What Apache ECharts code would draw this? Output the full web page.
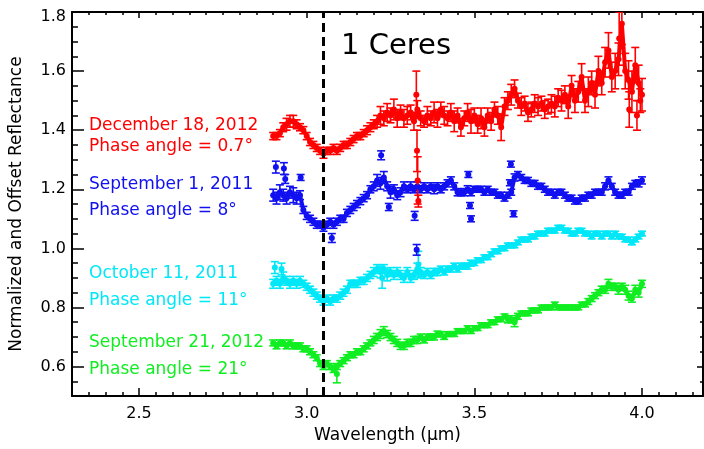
<!DOCTYPE html>
<html>
<head>
<meta charset="utf-8">
<script src="https://cdn.jsdelivr.net/npm/echarts@6/dist/echarts.min.js"></script>
<style>
html, body { margin: 0; padding: 0; background: #fff; }
#chart { width: 704px; height: 449px; }
</style>
</head>
<body>
<div id="chart"></div>
<script>
// wavelength grid (micron)
const wavelengths = [
  2.90, 2.91, 2.92, 2.93, 2.94, 2.95, 2.96, 2.97, 2.98, 2.99,
  3.00, 3.01, 3.02, 3.03, 3.04, 3.05, 3.06, 3.07, 3.08, 3.09,
  3.10, 3.11, 3.12, 3.13, 3.14, 3.15, 3.16, 3.17, 3.18, 3.19,
  3.20, 3.21, 3.22, 3.23, 3.24, 3.25, 3.26, 3.27, 3.28, 3.29,
  3.30, 3.31, 3.32, 3.33, 3.34, 3.35, 3.36, 3.37, 3.38, 3.39,
  3.40, 3.41, 3.42, 3.43, 3.44, 3.45, 3.46, 3.47, 3.48, 3.49,
  3.50, 3.51, 3.52, 3.53, 3.54, 3.55, 3.56, 3.57, 3.58, 3.59,
  3.60, 3.61, 3.62, 3.63, 3.64, 3.65, 3.66, 3.67, 3.68, 3.69,
  3.70, 3.71, 3.72, 3.73, 3.74, 3.75, 3.76, 3.77, 3.78, 3.79,
  3.80, 3.81, 3.82, 3.83, 3.84, 3.85, 3.86, 3.87, 3.88, 3.89,
  3.90, 3.91, 3.92, 3.93, 3.94, 3.95, 3.96, 3.97, 3.98, 3.99,
  4.00
];

// December 18, 2012
const redFlux = [
  1.38, 1.38, 1.39, 1.41, 1.42, 1.43, 1.43, 1.42, 1.41, 1.40,
  1.38, 1.36, 1.35, 1.34, 1.33, 1.32, 1.33, 1.33, 1.34, 1.33,
  1.34, 1.35, 1.35, 1.36, 1.37, 1.38, 1.38, 1.39, 1.40, 1.41,
  1.42, 1.43, 1.45, 1.44, 1.46, 1.45, 1.47, 1.44, 1.46, 1.44,
  1.45, 1.46, 1.43, 1.47, 1.44, 1.43, 1.45, 1.44, 1.46, 1.44,
  1.47, 1.45, 1.44, 1.46, 1.43, 1.45, 1.41, 1.44, 1.46, 1.43,
  1.45, 1.42, 1.44, 1.41, 1.45, 1.43, 1.47, 1.45, 1.41, 1.48,
  1.50, 1.52, 1.54, 1.50, 1.48, 1.49, 1.46, 1.47, 1.49, 1.48,
  1.49, 1.47, 1.48, 1.49, 1.48, 1.51, 1.50, 1.52, 1.48, 1.55,
  1.50, 1.53, 1.58, 1.50, 1.53, 1.56, 1.52, 1.60, 1.56, 1.63,
  1.67, 1.58, 1.60, 1.64, 1.76, 1.60, 1.57, 1.53, 1.62, 1.56,
  1.52
];
const redErr = [
  0.012, 0.012, 0.012, 0.015, 0.02, 0.02, 0.02, 0.015, 0.012, 0.012,
  0.012, 0.012, 0.012, 0.012, 0.012, 0.015, 0.012, 0.012, 0.012, 0.012,
  0.012, 0.012, 0.012, 0.012, 0.012, 0.012, 0.012, 0.012, 0.015, 0.015,
  0.015, 0.02, 0.03, 0.025, 0.03, 0.025, 0.035, 0.03, 0.025, 0.03,
  0.03, 0.025, 0.03, 0.03, 0.025, 0.02, 0.03, 0.025, 0.035, 0.03,
  0.025, 0.03, 0.025, 0.03, 0.035, 0.025, 0.03, 0.025, 0.03, 0.04,
  0.025, 0.03, 0.035, 0.03, 0.025, 0.03, 0.025, 0.03, 0.045, 0.03,
  0.03, 0.035, 0.03, 0.025, 0.03, 0.025, 0.03, 0.025, 0.03, 0.03,
  0.025, 0.03, 0.025, 0.03, 0.035, 0.03, 0.035, 0.03, 0.04, 0.035,
  0.04, 0.035, 0.045, 0.04, 0.05, 0.04, 0.045, 0.05, 0.04, 0.05,
  0.06, 0.05, 0.06, 0.055, 0.07, 0.06, 0.065, 0.07, 0.06, 0.06,
  0.055
];
const redExtra = [
  [3.327, 1.52, 0.08], [3.329, 1.33, 0.07], [3.331, 1.23, 0.08], [3.333, 1.16, 0.02],
  [3.932, 1.71, 0.09], [3.962, 1.47, 0.06], [3.985, 1.45, 0.05], [3.995, 1.50, 0.04]
];

// September 1, 2011
const blueFlux = [
  1.18, 1.17, 1.19, 1.18, 1.17, 1.19, 1.18, 1.17, 1.18, 1.13,
  1.11, 1.10, 1.09, 1.08, 1.08, 1.07, 1.08, 1.09, 1.08, 1.09,
  1.10, 1.10, 1.12, 1.13, 1.14, 1.15, 1.16, 1.17, 1.18, 1.20,
  1.21, 1.23, 1.22, 1.24, 1.21, 1.19, 1.20, 1.18, 1.19, 1.21,
  1.20, 1.21, 1.20, 1.21, 1.20, 1.21, 1.20, 1.21, 1.20, 1.21,
  1.20, 1.21, 1.22, 1.23, 1.21, 1.19, 1.19, 1.19, 1.20, 1.19,
  1.20, 1.20, 1.20, 1.19, 1.20, 1.19, 1.19, 1.18, 1.18, 1.17,
  1.18, 1.19, 1.24, 1.25, 1.24, 1.23, 1.23, 1.22, 1.22, 1.21,
  1.21, 1.20, 1.19, 1.19, 1.18, 1.19, 1.19, 1.18, 1.17, 1.17,
  1.16, 1.16, 1.17, 1.17, 1.18, 1.18, 1.19, 1.19, 1.19, 1.21,
  1.23, 1.21, 1.19, 1.18, 1.18, 1.19, 1.19, 1.21, 1.22, 1.22,
  1.23
];
const blueErr = [
  0.02, 0.02, 0.025, 0.02, 0.02, 0.02, 0.025, 0.02, 0.015, 0.012,
  0.012, 0.012, 0.012, 0.012, 0.012, 0.012, 0.012, 0.012, 0.012, 0.012,
  0.012, 0.012, 0.012, 0.012, 0.012, 0.012, 0.012, 0.012, 0.012, 0.012,
  0.015, 0.02, 0.02, 0.02, 0.015, 0.02, 0.015, 0.015, 0.015, 0.015,
  0.012, 0.015, 0.012, 0.015, 0.012, 0.012, 0.012, 0.012, 0.015, 0.012,
  0.012, 0.012, 0.012, 0.012, 0.012, 0.012, 0.012, 0.012, 0.012, 0.012,
  0.01, 0.01, 0.01, 0.01, 0.01, 0.01, 0.01, 0.01, 0.01, 0.01,
  0.01, 0.01, 0.012, 0.01, 0.01, 0.01, 0.01, 0.01, 0.01, 0.01,
  0.01, 0.01, 0.01, 0.01, 0.01, 0.01, 0.01, 0.01, 0.01, 0.01,
  0.01, 0.01, 0.01, 0.01, 0.01, 0.01, 0.01, 0.01, 0.01, 0.012,
  0.012, 0.01, 0.01, 0.01, 0.01, 0.01, 0.01, 0.01, 0.01, 0.012,
  0.012
];
const blueExtra = [
  [2.908, 1.275, 0.02], [2.932, 1.27, 0.02], [2.936, 1.235, 0.015], [2.982, 1.24, 0.01],
  [3.075, 1.035, 0.015], [3.222, 1.315, 0.015], [3.245, 1.14, 0.012], [3.322, 1.11, 0.015],
  [3.328, 0.995, 0.018], [3.482, 1.25, 0.01], [3.487, 1.145, 0.01], [3.490, 1.10, 0.01],
  [3.606, 1.222, 0.01], [3.609, 1.285, 0.01], [3.617, 1.117, 0.01]
];

// October 11, 2011
const cyanFlux = [
  0.88, 0.89, 0.88, 0.90, 0.89, 0.88, 0.89, 0.88, 0.89, 0.88,
  0.87, 0.86, 0.85, 0.84, 0.83, 0.82, 0.83, 0.82, 0.83, 0.83,
  0.84, 0.85, 0.86, 0.88, 0.88, 0.88, 0.89, 0.89, 0.90, 0.91,
  0.92, 0.93, 0.92, 0.93, 0.91, 0.92, 0.91, 0.92, 0.91, 0.90,
  0.92, 0.90, 0.91, 0.93, 0.92, 0.91, 0.92, 0.91, 0.92, 0.92,
  0.93, 0.92, 0.93, 0.93, 0.94, 0.93, 0.94, 0.94, 0.94, 0.95,
  0.95, 0.96, 0.96, 0.97, 0.97, 0.98, 0.99, 0.99, 1.00, 1.00,
  1.01, 1.01, 1.01, 1.02, 1.03, 1.03, 1.03, 1.04, 1.04, 1.05,
  1.05, 1.05, 1.06, 1.06, 1.06, 1.07, 1.07, 1.06, 1.06, 1.05,
  1.05, 1.06, 1.06, 1.05, 1.05, 1.04, 1.05, 1.05, 1.04, 1.05,
  1.05, 1.04, 1.05, 1.04, 1.04, 1.03, 1.03, 1.02, 1.03, 1.04,
  1.05
];
const cyanErr = [
  0.015, 0.015, 0.015, 0.02, 0.015, 0.015, 0.015, 0.015, 0.015, 0.012,
  0.012, 0.012, 0.012, 0.012, 0.012, 0.012, 0.012, 0.012, 0.012, 0.012,
  0.012, 0.012, 0.012, 0.012, 0.012, 0.012, 0.012, 0.012, 0.012, 0.012,
  0.015, 0.015, 0.02, 0.015, 0.02, 0.015, 0.015, 0.015, 0.015, 0.015,
  0.015, 0.015, 0.015, 0.02, 0.015, 0.012, 0.012, 0.012, 0.012, 0.012,
  0.01, 0.01, 0.01, 0.01, 0.01, 0.01, 0.01, 0.01, 0.01, 0.01,
  0.008, 0.008, 0.008, 0.008, 0.008, 0.008, 0.008, 0.008, 0.008, 0.008,
  0.008, 0.008, 0.008, 0.008, 0.008, 0.008, 0.008, 0.008, 0.008, 0.008,
  0.008, 0.008, 0.008, 0.008, 0.008, 0.008, 0.008, 0.008, 0.008, 0.008,
  0.008, 0.008, 0.008, 0.008, 0.008, 0.008, 0.008, 0.008, 0.008, 0.008,
  0.008, 0.008, 0.008, 0.008, 0.008, 0.008, 0.008, 0.008, 0.008, 0.008,
  0.008
];
const cyanExtra = [
  [2.905, 0.935, 0.02], [2.925, 0.93, 0.02], [3.225, 0.90, 0.035], [3.333, 0.945, 0.045]
];

// September 21, 2012
const greenFlux = [
  0.68, 0.67, 0.68, 0.68, 0.67, 0.68, 0.67, 0.67, 0.67, 0.66,
  0.66, 0.65, 0.64, 0.63, 0.61, 0.60, 0.61, 0.60, 0.59, 0.60,
  0.61, 0.62, 0.63, 0.64, 0.64, 0.65, 0.65, 0.66, 0.67, 0.68,
  0.69, 0.70, 0.71, 0.72, 0.71, 0.70, 0.69, 0.68, 0.67, 0.67,
  0.68, 0.68, 0.69, 0.69, 0.70, 0.69, 0.70, 0.70, 0.70, 0.71,
  0.71, 0.70, 0.71, 0.71, 0.71, 0.72, 0.72, 0.72, 0.73, 0.72,
  0.73, 0.73, 0.74, 0.74, 0.74, 0.75, 0.75, 0.76, 0.76, 0.77,
  0.76, 0.76, 0.75, 0.77, 0.78, 0.78, 0.78, 0.79, 0.79, 0.79,
  0.80, 0.80, 0.80, 0.80, 0.81, 0.80, 0.80, 0.80, 0.80, 0.80,
  0.80, 0.80, 0.81, 0.81, 0.82, 0.83, 0.84, 0.85, 0.86, 0.86,
  0.88, 0.87, 0.87, 0.86, 0.87, 0.86, 0.84, 0.83, 0.86, 0.85,
  0.88
];
const greenErr = [
  0.01, 0.01, 0.01, 0.01, 0.01, 0.01, 0.01, 0.01, 0.01, 0.01,
  0.01, 0.01, 0.01, 0.01, 0.01, 0.01, 0.01, 0.01, 0.01, 0.01,
  0.01, 0.01, 0.01, 0.01, 0.01, 0.01, 0.01, 0.01, 0.01, 0.01,
  0.012, 0.012, 0.015, 0.015, 0.012, 0.012, 0.012, 0.012, 0.012, 0.012,
  0.012, 0.012, 0.012, 0.012, 0.01, 0.01, 0.01, 0.01, 0.01, 0.01,
  0.008, 0.008, 0.008, 0.008, 0.008, 0.008, 0.008, 0.008, 0.008, 0.008,
  0.008, 0.008, 0.008, 0.008, 0.008, 0.008, 0.008, 0.008, 0.008, 0.008,
  0.012, 0.012, 0.015, 0.01, 0.008, 0.008, 0.008, 0.008, 0.008, 0.008,
  0.008, 0.008, 0.008, 0.008, 0.008, 0.008, 0.008, 0.008, 0.008, 0.008,
  0.008, 0.008, 0.008, 0.008, 0.01, 0.01, 0.01, 0.01, 0.012, 0.012,
  0.015, 0.012, 0.012, 0.015, 0.012, 0.015, 0.015, 0.012, 0.015, 0.015,
  0.012
];
const greenExtra = [
  [3.09, 0.575, 0.03]
];

// 3-micron band centre marker
const bandCentre = 3.05;

const labels = [
  ['December 18, 2012', 'Phase angle = 0.7°'],
  ['September 1, 2011', 'Phase angle = 8°'],
  ['October 11, 2011', 'Phase angle = 11°'],
  ['September 21, 2012', 'Phase angle = 21°']
];
const title = '1 Ceres';

const colors = ['#ff0000', '#1010f0', '#00e8f8', '#10ee22'];
const labelY = [[126, 147], [185, 211], [274, 301], [343, 370]];

const FONT = 'DejaVu Sans';

function pack(flux, err, extra) {
  const out = wavelengths.map(function (w, i) { return [w, flux[i], err[i]]; });
  extra.forEach(function (p) { out.push(p); });
  return out;
}

function renderErr(params, api) {
  const x = api.value(0), y = api.value(1), e = api.value(2);
  const p = api.coord([x, y]);
  const hi = api.coord([x, y + e]);
  const lo = api.coord([x, y - e]);
  const color = api.visual('color');
  const cap = 4;
  const ls = { stroke: color, lineWidth: 1.6 };
  return {
    type: 'group',
    children: [
      { type: 'line', shape: { x1: p[0], y1: hi[1], x2: p[0], y2: lo[1] }, style: ls },
      { type: 'line', shape: { x1: p[0] - cap, y1: hi[1], x2: p[0] + cap, y2: hi[1] }, style: ls },
      { type: 'line', shape: { x1: p[0] - cap, y1: lo[1], x2: p[0] + cap, y2: lo[1] }, style: ls },
      { type: 'circle', shape: { cx: p[0], cy: p[1], r: 3 }, style: { fill: color } }
    ]
  };
}

function spectrum(data, color, extra) {
  return Object.assign({
    type: 'custom',
    renderItem: renderErr,
    data: data,
    dimensions: ['x', 'y', 'err'],
    encode: { x: 0, y: 1 },
    itemStyle: { color: color },
    clip: true,
    silent: true
  }, extra || {});
}

// trace joining the points, under the error bars
function trace(data, color) {
  return {
    type: 'line',
    data: data,
    encode: { x: 0, y: 1 },
    showSymbol: false,
    lineStyle: { color: color, width: 4 },
    silent: true
  };
}

const chart = echarts.init(document.getElementById('chart'));

const tickStyle = { color: '#000', width: 1.5 };
const lineStyle = { color: '#000', width: 2 };

const graphic = [{
  type: 'text', x: 341, y: 46,
  style: { text: title, fill: '#000', font: '29px "' + FONT + '"', verticalAlign: 'middle' }
}];
labels.forEach(function (pair, i) {
  pair.forEach(function (txt, j) {
    graphic.push({
      type: 'text', x: 89, y: labelY[i][j],
      style: { text: txt, fill: colors[i], font: '17px "' + FONT + '"', verticalAlign: 'middle' }
    });
  });
});

const green = pack(greenFlux, greenErr, []);
const cyan = pack(cyanFlux, cyanErr, []);
const blue = pack(blueFlux, blueErr, []);
const red = pack(redFlux, redErr, []);

chart.setOption({
  animation: false,
  grid: { left: 72, right: 1, top: 12, bottom: 50 },
  xAxis: [{
    type: 'value', min: 2.3, max: 4.182, splitNumber: 4, position: 'bottom',
    axisLine: { onZero: false, lineStyle: lineStyle },
    axisTick: { inside: true, length: 8, lineStyle: tickStyle },
    minorTick: { show: true, splitNumber: 10, length: 4, lineStyle: tickStyle },
    splitLine: { show: false },
    axisLabel: {
      color: '#000', fontSize: 16, fontFamily: FONT, margin: 10,
      showMinLabel: false, showMaxLabel: false,
      formatter: function (v) { return v.toFixed(1); }
    },
    name: 'Wavelength (μm)', nameLocation: 'middle', nameGap: 29,
    nameTextStyle: { color: '#000', fontSize: 17, fontFamily: FONT }
  }, {
    type: 'value', min: 2.3, max: 4.182, splitNumber: 4, position: 'top',
    axisLine: { onZero: false, lineStyle: lineStyle },
    axisTick: { inside: true, length: 6, lineStyle: tickStyle },
    minorTick: { show: true, splitNumber: 10, length: 3, lineStyle: tickStyle },
    splitLine: { show: false },
    axisLabel: { show: false }
  }],
  yAxis: [{
    type: 'value', min: 0.5, max: 1.8, splitNumber: 6, position: 'left',
    axisLine: { onZero: false, lineStyle: lineStyle },
    axisTick: { inside: true, length: 12, lineStyle: tickStyle },
    minorTick: { show: true, splitNumber: 4, length: 6, lineStyle: tickStyle },
    splitLine: { show: false },
    axisLabel: {
      color: '#000', fontSize: 16, fontFamily: FONT, margin: 6,
      showMinLabel: false,
      formatter: function (v) {
        return v > 1.79 ? '{top|' + v.toFixed(1) + '}' : v.toFixed(1);
      },
      rich: { top: { padding: [9, 0, 0, 0], fontSize: 16, fontFamily: FONT, color: '#000' } }
    },
    name: 'Normalized and Offset Reflectance', nameLocation: 'middle', nameGap: 47,
    nameTextStyle: { color: '#000', fontSize: 17, fontFamily: FONT }
  }, {
    type: 'value', min: 0.5, max: 1.8, splitNumber: 6, position: 'right',
    axisLine: { onZero: false, lineStyle: lineStyle },
    axisTick: { inside: true, length: 6, lineStyle: tickStyle },
    minorTick: { show: true, splitNumber: 4, length: 3, lineStyle: tickStyle },
    splitLine: { show: false },
    axisLabel: { show: false }
  }],
  graphic: graphic,
  series: [
    trace(green, colors[3]),
    trace(cyan, colors[2]),
    trace(blue, colors[1]),
    trace(red, colors[0]),
    spectrum(pack(greenFlux, greenErr, greenExtra), colors[3]),
    spectrum(pack(cyanFlux, cyanErr, cyanExtra), colors[2]),
    spectrum(pack(blueFlux, blueErr, blueExtra), colors[1]),
    spectrum(pack(redFlux, redErr, redExtra), colors[0], {
      markLine: {
        silent: true,
        symbol: ['none', 'none'],
        label: { show: false },
        lineStyle: { color: '#000', width: 3, type: [9, 5] },
        data: [{ xAxis: bandCentre }]
      }
    })
  ]
});
</script>
</body>
</html>
